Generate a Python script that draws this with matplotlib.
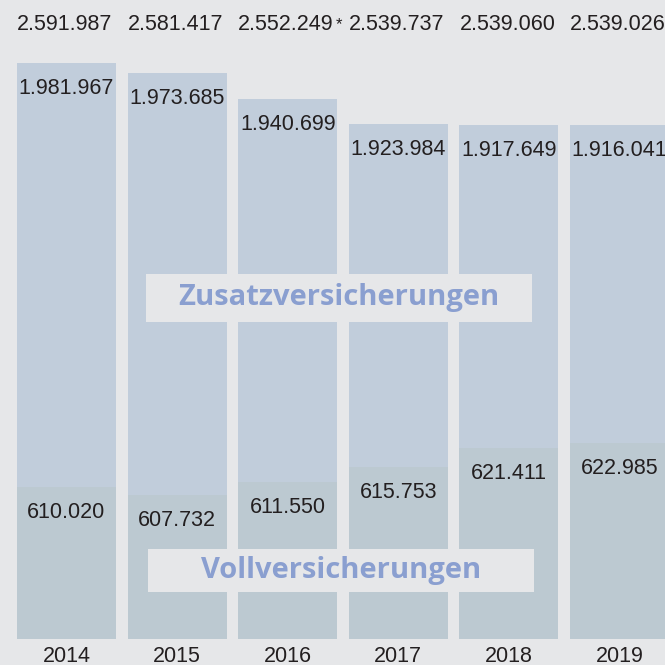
import numpy as np
import matplotlib
matplotlib.use("Agg")
import matplotlib.pyplot as plt
from matplotlib.patches import Rectangle

# Daten: Versicherte (Voll- und Zusatzversicherungen)
jahre = ["2014", "2015", "2016", "2017", "2018", "2019"]
voll = [610020, 607732, 611550, 615753, 621411, 622985]
zusatz = [1981967, 1973685, 1940699, 1923984, 1917649, 1916041]
fussnote = ["", "", "*", "", "", ""]

plt.rcParams['font.family'] = ['Liberation Sans', 'DejaVu Sans']

bg = "#e6e7e9"
c_zusatz = "#c1cddb"
c_voll = "#bcc9d1"
c_text = "#231f20"
c_label = "#8a9fd0"


def fmt(v):
    return f"{v:,}".replace(",", ".")


# Grafik ist nicht maßstabsgetreu -> abschnittsweise lineare Skala
yp_data = [0, 600000, 625000, 2530000, 2540000, 2552000, 2592000, 3000000]
yp_disp = [0, 118, 203, 500, 515, 540, 576, 1000]


def fwd(y):
    return np.interp(y, yp_data, yp_disp)


def inv(y):
    return np.interp(y, yp_disp, yp_data)


fig = plt.figure(figsize=(6.65, 6.65), dpi=100, facecolor=bg)
ax = fig.add_axes([0, 26 / 665, 1, 639 / 665])
ax.set_facecolor(bg)
ax.set_yscale('function', functions=(fwd, inv))

x = np.arange(len(jahre))
breite = 99 / 110.6
gesamt = [v + z for v, z in zip(voll, zusatz)]

ax.bar(x, voll, width=breite, color=c_voll, linewidth=0)
ax.bar(x, zusatz, width=breite, bottom=voll, color=c_zusatz, linewidth=0)

for i in range(len(jahre)):
    ax.annotate(fmt(zusatz[i]), (x[i], gesamt[i]), xytext=(0, -31),
                textcoords='offset pixels', ha='center', va='baseline',
                fontsize=15.5, color=c_text)
    ax.annotate(fmt(voll[i]), (x[i], voll[i]), xytext=(0, -31),
                textcoords='offset pixels', ha='center', va='baseline',
                fontsize=15.5, color=c_text)
    t = ax.text(x[i] - breite / 2, 609 / 639, fmt(gesamt[i]),
                transform=ax.get_xaxis_transform(), ha='left', va='baseline',
                fontsize=15.5, color=c_text)
    if fussnote[i]:
        ax.annotate(fussnote[i], xy=(1, 1), xycoords=t, xytext=(2, -3),
                    textcoords='offset pixels', ha='left', va='top',
                    fontsize=12, color=c_text)

ax.set_xlim(-66.5 / 110.6, (665 - 66.5) / 110.6)
ax.set_ylim(0, inv(639))
ax.set_xticks(x, jahre, fontsize=15.5, color=c_text)
ax.tick_params(axis='x', length=0, pad=5)
ax.set_yticks([])
for s in ax.spines.values():
    s.set_visible(False)

# Beschriftungsfelder
for (x0, y0, x1, y1), txt in [((146, 274, 532, 322), "Zusatzversicherungen"),
                              ((148, 549, 534, 592), "Vollversicherungen")]:
    fig.patches.append(Rectangle((x0 / 665, 1 - y1 / 665), (x1 - x0) / 665,
                                 (y1 - y0) / 665, transform=fig.transFigure,
                                 facecolor=bg, edgecolor='none', zorder=3))
    fig.text((x0 + x1) / 2 / 665, 1 - (y0 + y1) / 2 / 665, txt,
             ha='center', va='center', fontsize=21, fontweight='bold',
             family='Open Sans', color=c_label, zorder=4)

fig.savefig("out.png", dpi=100, facecolor=bg)
